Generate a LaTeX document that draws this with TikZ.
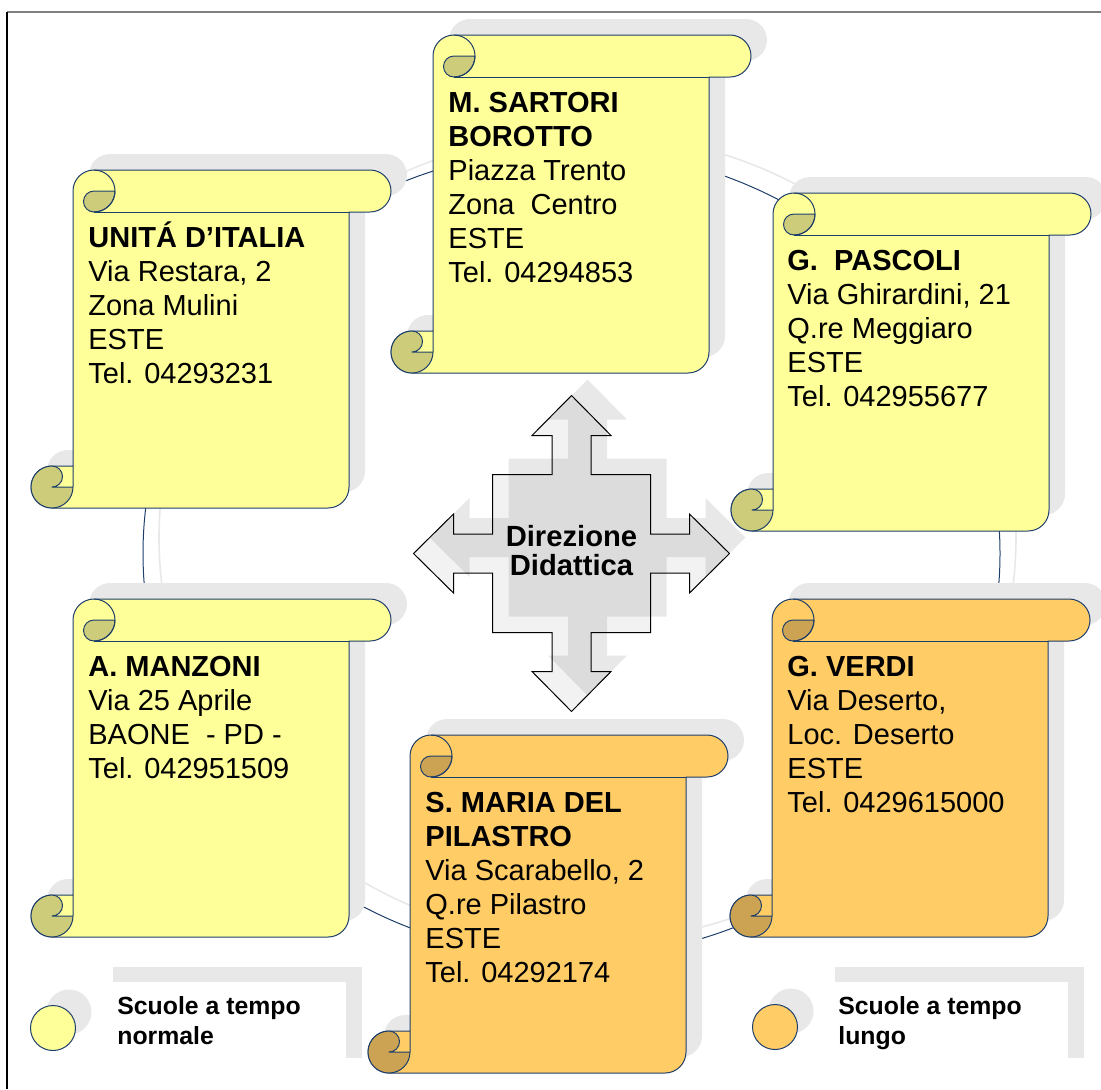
\documentclass[tikz,border=0pt]{standalone}
\usepackage{fontspec}
\setmainfont{Liberation Sans}
\definecolor{scrollyellow}{HTML}{FFFF99}
\definecolor{curlyellow}{HTML}{CCCC7A}
\definecolor{scrollorange}{HTML}{FFCC66}
\definecolor{curlorange}{HTML}{CCA352}
\definecolor{mnavy}{HTML}{1F3F6B}
\definecolor{mshade}{HTML}{E8E8E8}
\tikzset{
  scrollline/.style={draw=mnavy, line width=0.5pt, line join=round},
  scrollshade/.style={fill=mshade},
  schooltext/.style={anchor=base west, align=left, inner sep=0pt, font=\fontsize{14.5}{17}\selectfont},
  keytext/.style={anchor=base west, align=left, inner sep=0pt, font=\bfseries\fontsize{12.4}{15}\selectfont},
  keydot/.style={circle, draw=mnavy, line width=0.5pt, minimum size=22.5pt, inner sep=0pt},
}
% outline of a vertical scroll, left and top of its box
\newcommand{\scrollpath}[2]{({#1+42},{#2+317}) -- ({#1+42},{#2+21})
  arc[start angle=180, end angle=270, radius=21] -- ({#1+339},{#2})
  arc[start angle=-90, end angle=90, radius=21] -- ({#1+318},{#2+42})
  -- ({#1+318},{#2+317})
  arc[start angle=0, end angle=90, radius=21] -- ({#1+21},{#2+338})
  arc[start angle=90, end angle=270, radius=21] -- ({#1+42},{#2+296})}
\newcommand{\schoolscroll}[4]{%
  \fill[scrollshade] \scrollpath{#1+16}{#2-16};
  \filldraw[scrollline, fill=#3] \scrollpath{#1}{#2};
  \draw[scrollline] ({#1+318},{#2+42}) -- ({#1+63},{#2+42});
  \filldraw[scrollline, fill=#4] ({#1+63},{#2+21}) -- ({#1+84},{#2+21})
    arc[start angle=0, end angle=90, radius=21]
    arc[start angle=90, end angle=270, radius=10.5] -- cycle;
  \draw[scrollline] ({#1+63},{#2}) arc[start angle=-90, end angle=90, radius=21];
  \filldraw[scrollline, fill=#4] ({#1+21},{#2+296})
    arc[start angle=-90, end angle=90, radius=10.5] -- ({#1+42},{#2+317})
    arc[start angle=0, end angle=270, radius=21] -- cycle;
}
% four-way arrow round (0,0)
\newcommand{\crosspath}{(0,-158) -- (39.5,-118) -- (19.5,-118) -- (19.5,-79) -- (79,-79)
  -- (79,-19.5) -- (118,-19.5) -- (118,-39.5) -- (158,0) -- (118,39.5) -- (118,19.5)
  -- (79,19.5) -- (79,79) -- (19.5,79) -- (19.5,118) -- (39.5,118) -- (0,158)
  -- (-39.5,118) -- (-19.5,118) -- (-19.5,79) -- (-79,79) -- (-79,19.5) -- (-118,19.5)
  -- (-118,39.5) -- (-158,0) -- (-118,-39.5) -- (-118,-19.5) -- (-79,-19.5) -- (-79,-79)
  -- (-19.5,-79) -- (-19.5,-118) -- (-39.5,-118) -- cycle}

\begin{document}
\begin{tikzpicture}[x=0.5pt, y=-0.5pt]
  \useasboundingbox (0,0) rectangle (1101,1089);
  \draw[gray, line width=0.8pt] (7,12) -- (1101,12);
  \draw[black, line width=0.6pt] (7,12) -- (7,1089);

  % ring behind the schools
  \coordinate (ring) at (571.5,553.5);
  \coordinate (ringshade) at (587.5,537.5);
  \draw[mshade, line width=0.8pt] (ringshade) ellipse[x radius=428.5, y radius=404];
  \draw[mnavy, line width=0.5pt] (ring) ellipse[x radius=428.5, y radius=404];

  % schools
  \schoolscroll{31}{170}{scrollyellow}{curlyellow}
  \schoolscroll{391}{35}{scrollyellow}{curlyellow}
  \schoolscroll{731}{193}{scrollyellow}{curlyellow}
  \schoolscroll{31}{599}{scrollyellow}{curlyellow}
  \schoolscroll{730}{599}{scrollorange}{curlorange}
  \schoolscroll{368}{735}{scrollorange}{curlorange}

  % text nodes sit on the baseline of their last line
  \node[schooltext] (unita) at (88,383) {\textbf{UNITÁ D’ITALIA}\\Via Restara, 2\\Zona Mulini\\ESTE\\Tel. 04293231};
  \node[schooltext] (sartori) at (448,282) {\textbf{M. SARTORI}\\\textbf{BOROTTO}\\Piazza Trento\\Zona\ \ Centro\\ESTE\\Tel. 04294853};
  \node[schooltext] (pascoli) at (787,406) {\textbf{G.\ \ PASCOLI}\\Via Ghirardini, 21\\Q.re Meggiaro\\ESTE\\Tel. 042955677};
  \node[schooltext] (manzoni) at (88,778) {\textbf{A. MANZONI}\\Via 25 Aprile\\BAONE\ \ - PD -\\Tel. 042951509};
  \node[schooltext] (verdi) at (787,812) {\textbf{G. VERDI}\\Via Deserto,\\Loc. Deserto\\ESTE\\Tel. 0429615000};
  \node[schooltext] (maria) at (425,982) {\textbf{S. MARIA DEL}\\\textbf{PILASTRO}\\Via Scarabello, 2\\Q.re Pilastro\\ESTE\\Tel. 04292174};

  % direzione didattica
  \begin{scope}[shift={(587.5,537.5)}]
    \fill[mshade] \crosspath;
  \end{scope}
  \begin{scope}[shift={(571.5,553.5)}]
    \filldraw[draw=black, line width=0.5pt, fill=black, fill opacity=0.05] \crosspath;
  \end{scope}
  \node[font=\bfseries\fontsize{14.6}{14.5}\selectfont, align=center, inner sep=0pt] (direzione) at (571.5,551) {Direzione\\Didattica};

  % legend
  \fill[mshade] (113,967) rectangle (362,1058);
  \fill[white] (97,982) rectangle (346,1073);
  \fill[mshade] (835,967) rectangle (1084,1058);
  \fill[white] (819,982) rectangle (1068,1073);
  \fill[mshade] (69,1012) circle[radius=22.5];
  \fill[mshade] (791,1011) circle[radius=22.5];
  \node[keydot, fill=scrollyellow] (dotnormale) at (53,1028) {};
  \node[keydot, fill=scrollorange] (dotlungo) at (775,1027) {};
  \node[keytext] (normale) at (117,1044) {Scuole a tempo\\normale};
  \node[keytext] (lungo) at (838,1044) {Scuole a tempo\\lungo};
\end{tikzpicture}
\end{document}
